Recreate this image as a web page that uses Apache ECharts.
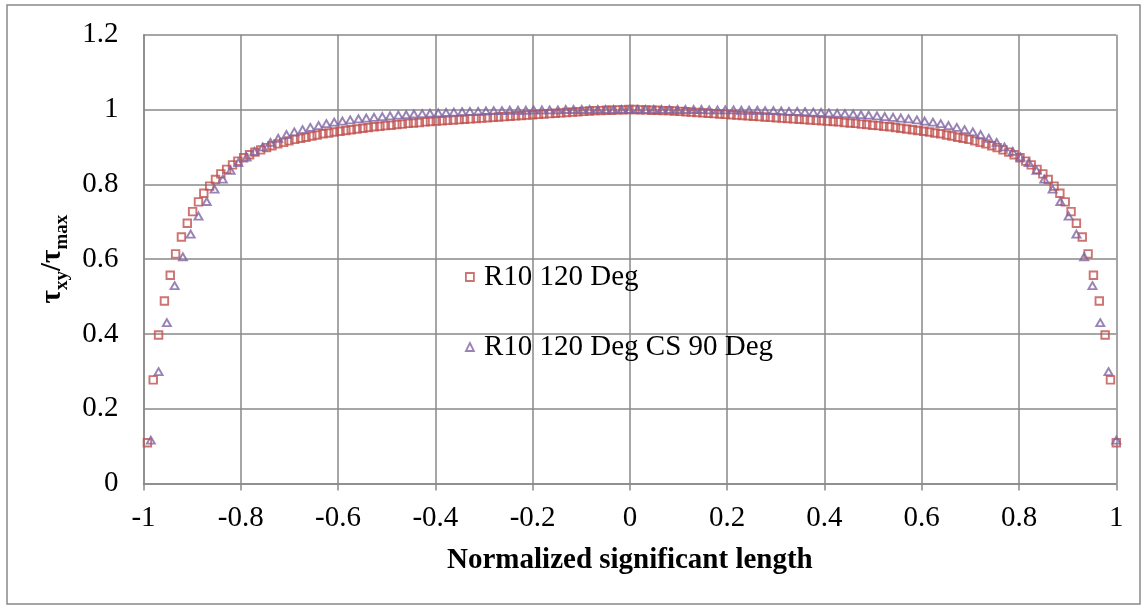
<!DOCTYPE html>
<html>
<head>
<meta charset="utf-8">
<title>Normalized shear stress</title>
<script src="https://cdn.jsdelivr.net/npm/echarts@6/dist/echarts.min.js"></script>
<style>
  html, body { margin: 0; padding: 0; background: #ffffff; }
  #chart { width: 1148px; height: 607px; }
</style>
</head>
<body>
<div id="chart"></div>
<script>
// Series names
const seriesNames = ['R10 120 Deg', 'R10 120 Deg CS 90 Deg'];

// R10 120 Deg: normalized position along the significant length
const sqX = [
  -0.992, -0.980, -0.969, -0.957, -0.945, -0.934, -0.922, -0.910, -0.899, -0.887,
  -0.876, -0.864, -0.852, -0.841, -0.829, -0.817, -0.806, -0.794, -0.782, -0.771,
  -0.759, -0.747, -0.736, -0.724, -0.712, -0.701, -0.689, -0.677, -0.666, -0.654,
  -0.643, -0.631, -0.619, -0.608, -0.596, -0.584, -0.573, -0.561, -0.549, -0.538,
  -0.526, -0.514, -0.503, -0.491, -0.479, -0.468, -0.456, -0.445, -0.433, -0.421,
  -0.410, -0.398, -0.386, -0.375, -0.363, -0.351, -0.340, -0.328, -0.316, -0.305,
  -0.293, -0.281, -0.270, -0.258, -0.246, -0.235, -0.223, -0.212, -0.200, -0.188,
  -0.177, -0.165, -0.153, -0.142, -0.130, -0.118, -0.107, -0.095, -0.083, -0.072,
  -0.060, -0.048, -0.037, -0.025, -0.014, -0.002,
  0.010, 0.021, 0.033, 0.045, 0.056, 0.068, 0.080, 0.091, 0.103, 0.115,
  0.126, 0.138, 0.150, 0.161, 0.173, 0.185, 0.196, 0.208, 0.220, 0.231,
  0.243, 0.254, 0.266, 0.278, 0.289, 0.301, 0.313, 0.324, 0.336, 0.348,
  0.359, 0.371, 0.383, 0.394, 0.406, 0.418, 0.429, 0.441, 0.453, 0.464,
  0.476, 0.487, 0.499, 0.511, 0.522, 0.534, 0.546, 0.557, 0.569, 0.581,
  0.592, 0.604, 0.616, 0.627, 0.639, 0.651, 0.662, 0.674, 0.685, 0.697,
  0.709, 0.720, 0.732, 0.744, 0.755, 0.767, 0.779, 0.790, 0.802, 0.814,
  0.825, 0.837, 0.849, 0.860, 0.872, 0.884, 0.895, 0.907, 0.918, 0.930,
  0.942, 0.953, 0.965, 0.977, 0.988, 1.000
];

// R10 120 Deg: tau_xy / tau_max
const sqY = [
  0.109, 0.277, 0.397, 0.488, 0.557, 0.614, 0.659, 0.696, 0.727, 0.753,
  0.776, 0.795, 0.813, 0.828, 0.840, 0.852, 0.862, 0.871, 0.879, 0.886,
  0.892, 0.898, 0.903, 0.908, 0.912, 0.916, 0.920, 0.923, 0.926, 0.929,
  0.932, 0.935, 0.937, 0.940, 0.942, 0.944, 0.946, 0.948, 0.950, 0.952,
  0.954, 0.955, 0.957, 0.958, 0.960, 0.961, 0.963, 0.964, 0.965, 0.967,
  0.968, 0.969, 0.970, 0.971, 0.972, 0.973, 0.974, 0.975, 0.976, 0.977,
  0.978, 0.979, 0.980, 0.981, 0.982, 0.983, 0.984, 0.985, 0.986, 0.987,
  0.988, 0.989, 0.990, 0.991, 0.992, 0.993, 0.994, 0.995, 0.996, 0.997,
  0.997, 0.998, 0.998, 0.999, 0.999, 1.000,
  1.000, 0.999, 0.999, 0.998, 0.998, 0.997, 0.997, 0.996, 0.995, 0.994,
  0.993, 0.992, 0.991, 0.990, 0.989, 0.988, 0.987, 0.986, 0.985, 0.984,
  0.983, 0.982, 0.981, 0.980, 0.979, 0.978, 0.977, 0.976, 0.975, 0.974,
  0.973, 0.972, 0.971, 0.970, 0.969, 0.968, 0.967, 0.965, 0.964, 0.963,
  0.961, 0.960, 0.958, 0.957, 0.955, 0.954, 0.952, 0.950, 0.948, 0.946,
  0.944, 0.942, 0.940, 0.937, 0.935, 0.932, 0.929, 0.926, 0.923, 0.920,
  0.916, 0.912, 0.908, 0.903, 0.898, 0.892, 0.886, 0.879, 0.871, 0.862,
  0.852, 0.840, 0.828, 0.813, 0.795, 0.776, 0.753, 0.727, 0.696, 0.659,
  0.614, 0.557, 0.488, 0.397, 0.277, 0.109
];

// R10 120 Deg CS 90 Deg: normalized position
const triX = [
  -0.985, -0.969, -0.952, -0.936, -0.919, -0.903, -0.887, -0.870, -0.854, -0.837,
  -0.821, -0.805, -0.788, -0.772, -0.755, -0.739, -0.723, -0.706, -0.690, -0.673,
  -0.657, -0.640, -0.624, -0.608, -0.591, -0.575, -0.558, -0.542, -0.526, -0.509,
  -0.493, -0.476, -0.460, -0.444, -0.427, -0.411, -0.394, -0.378, -0.362, -0.345,
  -0.329, -0.312, -0.296, -0.280, -0.263, -0.247, -0.230, -0.214, -0.198, -0.181,
  -0.165, -0.148, -0.132, -0.116, -0.099, -0.083, -0.066, -0.050, -0.034, -0.017,
  -0.001,
  0.016, 0.032, 0.049, 0.065, 0.081, 0.098, 0.114, 0.131, 0.147, 0.163,
  0.180, 0.196, 0.213, 0.229, 0.245, 0.262, 0.278, 0.295, 0.311, 0.327,
  0.344, 0.360, 0.377, 0.393, 0.409, 0.426, 0.442, 0.459, 0.475, 0.491,
  0.508, 0.524, 0.541, 0.557, 0.573, 0.590, 0.606, 0.623, 0.639, 0.655,
  0.672, 0.688, 0.705, 0.721, 0.738, 0.754, 0.770, 0.787, 0.803, 0.820,
  0.836, 0.852, 0.869, 0.885, 0.902, 0.918, 0.934, 0.951, 0.967, 0.984,
  1.000
];

// R10 120 Deg CS 90 Deg: tau_xy / tau_max
const triY = [
  0.116, 0.299, 0.430, 0.529, 0.606, 0.667, 0.715, 0.754, 0.787, 0.814,
  0.837, 0.858, 0.873, 0.888, 0.900, 0.912, 0.923, 0.933, 0.940, 0.946,
  0.952, 0.957, 0.962, 0.966, 0.969, 0.972, 0.975, 0.977, 0.979, 0.981,
  0.983, 0.985, 0.986, 0.988, 0.989, 0.990, 0.991, 0.992, 0.993, 0.994,
  0.995, 0.995, 0.996, 0.997, 0.997, 0.998, 0.998, 0.998, 0.999, 0.999,
  0.999, 0.999, 1.000, 1.000, 1.000, 1.000, 1.000, 1.000, 1.000, 1.000,
  1.000,
  1.000, 1.000, 1.000, 1.000, 1.000, 1.000, 1.000, 1.000, 1.000, 0.999,
  0.999, 0.999, 0.999, 0.998, 0.998, 0.998, 0.997, 0.997, 0.996, 0.995,
  0.995, 0.994, 0.993, 0.992, 0.991, 0.990, 0.989, 0.988, 0.986, 0.985,
  0.983, 0.981, 0.979, 0.977, 0.975, 0.972, 0.969, 0.966, 0.962, 0.957,
  0.952, 0.946, 0.940, 0.933, 0.923, 0.912, 0.900, 0.888, 0.873, 0.858,
  0.837, 0.814, 0.787, 0.754, 0.715, 0.667, 0.606, 0.529, 0.430, 0.299,
  0.116
];

// Axis ranges
const xRange = { min: -1, max: 1, step: 0.2 };
const yRange = { min: 0, max: 1.2, step: 0.2 };

const FONT = '"Liberation Serif", "Times New Roman", Times, serif';
const GRID = '#898989';

const pairs = (xs, ys) => xs.map((x, i) => [x, ys[i]]);

const chart = echarts.init(document.getElementById('chart'), null, { renderer: 'canvas' });

chart.setOption({
  animation: false,
  backgroundColor: '#ffffff',
  graphic: [{
    type: 'rect',
    silent: true,
    z: -10,
    shape: { x: 7, y: 5, width: 1133, height: 599 },
    style: { fill: 'none', stroke: GRID, lineWidth: 1.5 }
  }],
  grid: { left: 143.5, right: 31.7, top: 34.7, bottom: 123.5 },
  xAxis: {
    type: 'value',
    min: xRange.min, max: xRange.max, interval: xRange.step,
    axisLine: { show: true, onZero: false, lineStyle: { color: GRID, width: 1.5 } },
    axisTick: { show: true, length: 7, lineStyle: { color: GRID, width: 1.5 } },
    axisLabel: { color: '#000', fontFamily: FONT, fontSize: 29, margin: 20 },
    splitLine: { show: true, lineStyle: { color: GRID, width: 1.5 } },
    name: 'Normalized significant length',
    nameLocation: 'middle',
    nameGap: 63,
    nameTextStyle: { color: '#000', fontFamily: FONT, fontSize: 29, fontWeight: 'bold' }
  },
  yAxis: {
    type: 'value',
    min: yRange.min, max: yRange.max, interval: yRange.step,
    axisLine: { show: true, onZero: false, lineStyle: { color: GRID, width: 1.5 } },
    axisTick: { show: false },
    axisLabel: { color: '#000', fontFamily: FONT, fontSize: 29, margin: 25 },
    splitLine: { show: true, lineStyle: { color: GRID, width: 1.5 } },
    name: '{t|τ}{s|xy}{t|/τ}{s|max}',
    nameLocation: 'middle',
    nameRotate: 90,
    nameGap: 70,
    nameTextStyle: {
      color: '#000',
      fontFamily: FONT,
      fontWeight: 'bold',
      rich: {
        t: { fontFamily: FONT, fontSize: 29, fontWeight: 'bold', color: '#000', lineHeight: 38 },
        s: { fontFamily: FONT, fontSize: 19, fontWeight: 'bold', color: '#000', lineHeight: 20, verticalAlign: 'bottom' }
      }
    }
  },
  legend: {
    orient: 'vertical',
    left: 460,
    top: 257,
    itemWidth: 8,
    itemHeight: 8,
    itemGap: 40,
    selectedMode: false,
    textStyle: { color: '#000', fontFamily: FONT, fontSize: 29, lineHeight: 30, padding: [0, 0, 0, 5] },
    itemStyle: { borderWidth: 1.8 },
    data: seriesNames
  },
  series: [
    {
      name: seriesNames[0],
      type: 'scatter',
      symbol: 'rect',
      symbolSize: 7.5,
      itemStyle: { color: 'rgba(255,255,255,0)', borderColor: '#C0504D', borderWidth: 1.9 },
      emphasis: { disabled: true },
      data: pairs(sqX, sqY)
    },
    {
      name: seriesNames[1],
      type: 'scatter',
      symbol: 'triangle',
      symbolSize: [8, 7],
      itemStyle: { color: 'rgba(255,255,255,0)', borderColor: '#8064A2', borderWidth: 1.9 },
      emphasis: { disabled: true },
      data: pairs(triX, triY)
    }
  ]
});
</script>
</body>
</html>
